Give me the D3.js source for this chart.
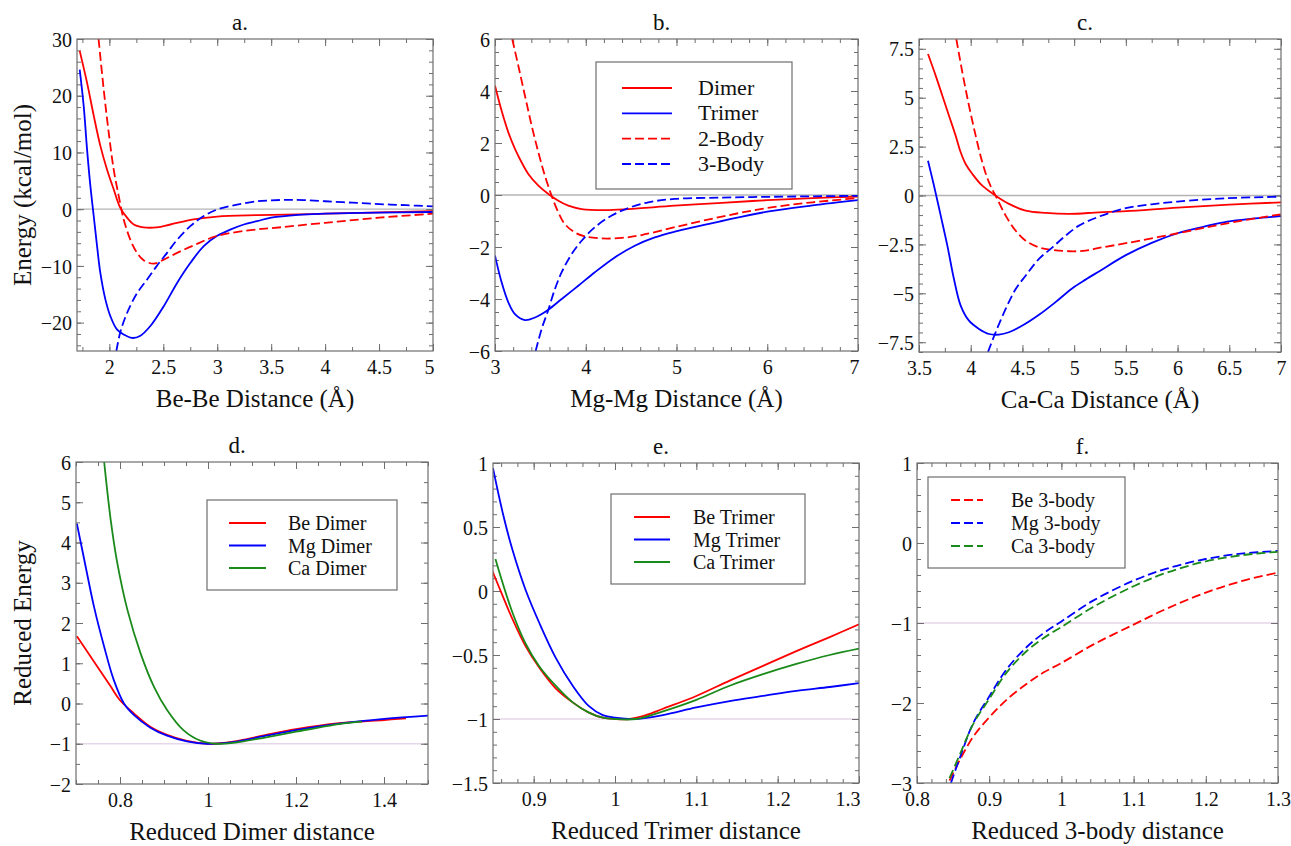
<!DOCTYPE html>
<html>
<head>
<meta charset="utf-8">
<script src="https://cdn.jsdelivr.net/npm/d3@7"></script>
<style>
body { margin: 0; background: #fff; }
svg text { font-family: "Liberation Serif", "DejaVu Serif", serif; fill: #111; }
</style>
</head>
<body>
<svg id="chart" width="1291" height="846"></svg>
<script>
// ---- a. Be (kcal/mol vs Angstrom)
var beDimer = [[1.725,27.9],[1.793,22.3],[1.855,16.5],[1.916,11.2],[1.978,7.0],[2.04,3.5],[2.1,0.26],[2.164,-1.5],[2.226,-2.7],[2.318,-3.2],[2.44,-3.2],[2.566,-2.7],[2.78,-1.8],[3.0,-1.3],[3.37,-1.05],[3.75,-0.9],[4.0,-0.8],[4.5,-0.55],[5.0,-0.35]];
var beTrimer = [[1.725,24.6],[1.762,18.2],[1.793,10.6],[1.824,4.1],[1.855,-1.2],[1.886,-6.5],[1.916,-11.2],[1.963,-15.9],[2.01,-18.9],[2.07,-21.2],[2.133,-22.1],[2.21,-22.7],[2.288,-22.3],[2.38,-20.6],[2.504,-17.1],[2.628,-13.0],[2.75,-9.5],[2.875,-6.5],[3.0,-4.7],[3.12,-3.6],[3.246,-2.7],[3.37,-2.1],[3.5,-1.5],[3.75,-1.0],[4.0,-0.8],[4.5,-0.6],[5.0,-0.5]];
var be2Body = [[1.9,30],[1.947,21.2],[1.994,13.5],[2.04,7.0],[2.087,2.3],[2.133,-1.8],[2.195,-5.4],[2.257,-7.7],[2.318,-9.0],[2.41,-9.6],[2.504,-8.9],[2.628,-7.7],[2.78,-6.4],[3.0,-4.7],[3.37,-3.55],[3.5,-3.35],[4.0,-2.4],[4.5,-1.5],[5.0,-0.8]];
var be3Body = [[2.065,-25],[2.10,-21.8],[2.164,-18.3],[2.257,-14.8],[2.35,-12.4],[2.44,-10.0],[2.535,-7.7],[2.628,-5.4],[2.75,-3.0],[2.875,-1.2],[3.0,-0.06],[3.184,0.8],[3.37,1.4],[3.5,1.55],[3.65,1.65],[3.8,1.6],[4.0,1.4],[4.25,1.15],[4.5,0.9],[4.75,0.7],[5.0,0.5]];

// ---- b. Mg
var mgDimer = [[3.0,4.2],[3.073,3.24],[3.147,2.41],[3.22,1.77],[3.294,1.25],[3.367,0.81],[3.478,0.36],[3.588,0.04],[3.698,-0.22],[3.808,-0.41],[3.955,-0.54],[4.21,-0.58],[4.47,-0.54],[4.98,-0.41],[5.5,-0.3],[6.0,-0.2],[6.5,-0.12],[7.0,-0.06]];
var mgTrimer = [[3.0,-2.33],[3.073,-3.36],[3.147,-4.13],[3.22,-4.58],[3.33,-4.81],[3.44,-4.71],[3.588,-4.41],[3.735,-4.0],[3.918,-3.49],[4.10,-2.97],[4.32,-2.4],[4.54,-1.95],[4.76,-1.63],[4.98,-1.41],[5.5,-1.0],[6.0,-0.64],[6.5,-0.4],[7.0,-0.2]];
var mg2Body = [[3.19,6],[3.257,4.97],[3.33,3.82],[3.404,2.67],[3.478,1.64],[3.55,0.74],[3.624,-0.03],[3.698,-0.67],[3.77,-1.12],[3.88,-1.44],[3.99,-1.59],[4.175,-1.67],[4.396,-1.65],[4.616,-1.54],[4.98,-1.24],[5.5,-0.83],[6.0,-0.5],[6.5,-0.28],[7.0,-0.12]];
var mg3Body = [[3.448,-6],[3.514,-5.15],[3.588,-4.41],[3.66,-3.62],[3.735,-2.97],[3.845,-2.27],[3.955,-1.76],[4.10,-1.24],[4.286,-0.79],[4.47,-0.5],[4.69,-0.28],[4.98,-0.15],[5.5,-0.1],[6.0,-0.07],[6.5,-0.05],[7.0,-0.03]];

// ---- c. Ca
var caDimer = [[3.587,7.23],[3.661,6.13],[3.726,5.1],[3.79,4.08],[3.854,3.06],[3.903,2.21],[3.951,1.61],[4.016,1.1],[4.112,0.5],[4.241,-0.01],[4.37,-0.43],[4.531,-0.77],[4.725,-0.89],[4.95,-0.94],[5.24,-0.86],[5.5,-0.8],[6.0,-0.62],[6.5,-0.47],[7.0,-0.35]];
var caTrimer = [[3.587,1.78],[3.645,0.5],[3.71,-1.03],[3.774,-2.56],[3.838,-4.27],[3.903,-5.63],[3.983,-6.4],[4.08,-6.82],[4.177,-7.08],[4.273,-7.11],[4.37,-6.99],[4.5,-6.65],[4.66,-6.1],[4.82,-5.45],[4.98,-4.75],[5.11,-4.3],[5.24,-3.88],[5.5,-3.05],[5.75,-2.42],[6.0,-1.93],[6.25,-1.6],[6.48,-1.33],[6.75,-1.17],[7.0,-1.05]];
var ca2Body = [[3.861,8],[3.919,6.3],[3.983,4.6],[4.048,3.06],[4.112,1.7],[4.177,0.67],[4.257,-0.18],[4.338,-1.03],[4.435,-1.8],[4.531,-2.31],[4.66,-2.65],[4.79,-2.78],[4.95,-2.85],[5.11,-2.82],[5.24,-2.68],[5.5,-2.44],[6.0,-1.93],[6.48,-1.42],[7.0,-0.96]];
var ca3Body = [[4.167,-8],[4.241,-6.99],[4.338,-5.8],[4.435,-4.78],[4.531,-4.1],[4.66,-3.24],[4.79,-2.65],[4.918,-2.05],[5.047,-1.54],[5.24,-1.08],[5.5,-0.65],[5.75,-0.45],[6.0,-0.31],[6.48,-0.14],[7.0,-0.06]];

// ---- d. reduced dimers
var redBeDimer = [[0.702,1.67],[0.741,1.04],[0.779,0.42],[0.8,0.08],[0.832,-0.25],[0.869,-0.58],[0.907,-0.78],[0.952,-0.93],[1.0,-1.0],[1.057,-0.95],[1.132,-0.78],[1.2,-0.64],[1.298,-0.49],[1.4,-0.41],[1.45,-0.37]];
var redMgDimer = [[0.702,4.47],[0.719,3.56],[0.741,2.4],[0.764,1.41],[0.786,0.58],[0.809,0.0],[0.832,-0.29],[0.869,-0.6],[0.907,-0.8],[0.952,-0.94],[1.0,-1.0],[1.057,-0.96],[1.132,-0.8],[1.2,-0.66],[1.298,-0.5],[1.4,-0.38],[1.5,-0.3]];
var redCaDimer = [[0.764,6],[0.779,4.55],[0.794,3.48],[0.817,2.32],[0.847,1.24],[0.877,0.42],[0.907,-0.16],[0.944,-0.66],[0.982,-0.92],[1.019,-1.0],[1.057,-0.98],[1.132,-0.84],[1.2,-0.7],[1.298,-0.51],[1.35,-0.45]];

// ---- e. reduced trimers
var redBeTrimer = [[0.849,0.16],[0.862,-0.04],[0.874,-0.22],[0.89,-0.43],[0.907,-0.6],[0.927,-0.76],[0.948,-0.87],[0.968,-0.95],[0.985,-0.99],[1.0,-1.0],[1.018,-1.0],[1.038,-0.97],[1.059,-0.92],[1.1,-0.82],[1.141,-0.7],[1.182,-0.585],[1.223,-0.47],[1.264,-0.36],[1.3,-0.26]];
var redMgTrimer = [[0.85,0.96],[0.862,0.61],[0.874,0.32],[0.89,0.01],[0.907,-0.25],[0.927,-0.52],[0.948,-0.74],[0.968,-0.9],[0.985,-0.97],[1.0,-0.99],[1.026,-1.0],[1.059,-0.97],[1.1,-0.91],[1.141,-0.86],[1.182,-0.82],[1.223,-0.78],[1.264,-0.75],[1.3,-0.72]];
var redCaTrimer = [[0.853,0.25],[0.862,0.06],[0.874,-0.17],[0.89,-0.41],[0.907,-0.59],[0.927,-0.74],[0.948,-0.87],[0.968,-0.95],[0.985,-0.99],[1.0,-1.0],[1.026,-1.0],[1.059,-0.94],[1.1,-0.85],[1.141,-0.74],[1.182,-0.65],[1.223,-0.57],[1.264,-0.5],[1.3,-0.45]];

// ---- f. reduced 3-body
var redBe3Body = [[0.845,-2.97],[0.86,-2.7],[0.878,-2.42],[0.9,-2.18],[0.924,-1.96],[0.952,-1.76],[0.975,-1.62],[1.0,-1.5],[1.044,-1.27],[1.1,-1.02],[1.146,-0.82],[1.2,-0.62],[1.252,-0.47],[1.3,-0.37]];
var redMg3Body = [[0.847,-3],[0.86,-2.67],[0.878,-2.25],[0.9,-1.92],[0.924,-1.58],[0.952,-1.3],[0.975,-1.13],[1.0,-0.98],[1.044,-0.72],[1.1,-0.47],[1.146,-0.32],[1.2,-0.2],[1.252,-0.13],[1.3,-0.1]];
var redCa3Body = [[0.845,-2.94],[0.86,-2.63],[0.878,-2.26],[0.9,-1.95],[0.924,-1.62],[0.952,-1.35],[0.975,-1.19],[1.0,-1.05],[1.044,-0.8],[1.1,-0.54],[1.146,-0.37],[1.2,-0.23],[1.252,-0.15],[1.3,-0.11]];

var RED = "#ff0000", BLUE = "#0000ff", GREEN = "#1a8a1a";
var DASH = "9,4";

var panels = [
  { title: "a.", left: 77, right: 433, top: 39, bottom: 351, xDomain: [1.7, 5], yDomain: [-25, 30],
    xMajor: [2, 2.5, 3, 3.5, 4, 4.5, 5], xMinor: 0.25, yMajor: [-20, -10, 0, 10, 20, 30], yMinor: 2, refY: 0, refColor: "#b4b4b4",
    xLabel: "Be-Be Distance (\u00c5)", yLabel: "Energy (kcal/mol)", lastEnd: true,
    series: [
      { name: "Dimer", data: beDimer, color: RED }, { name: "Trimer", data: beTrimer, color: BLUE },
      { name: "2-Body", data: be2Body, color: RED, dash: true }, { name: "3-Body", data: be3Body, color: BLUE, dash: true }] },
  { title: "b.", left: 495, right: 858, top: 39, bottom: 351, xDomain: [3, 7], yDomain: [-6, 6],
    xMajor: [3, 4, 5, 6, 7], xMinor: 0.2, yMajor: [-6, -4, -2, 0, 2, 4, 6], yMinor: 0.5, refY: 0, refColor: "#b4b4b4",
    xLabel: "Mg-Mg Distance (\u00c5)", lastEnd: true,
    legend: { x0: 596, x1: 792, y0: 62, y1: 189, rows: [88, 113.3, 138.6, 164], l0: 622, l1: 672, tx: 698, size: 22 },
    series: [
      { name: "Dimer", data: mgDimer, color: RED }, { name: "Trimer", data: mgTrimer, color: BLUE },
      { name: "2-Body", data: mg2Body, color: RED, dash: true }, { name: "3-Body", data: mg3Body, color: BLUE, dash: true }] },
  { title: "c.", left: 919, right: 1281, top: 39, bottom: 352, xDomain: [3.5, 7], yDomain: [-8, 8],
    xMajor: [3.5, 4, 4.5, 5, 5.5, 6, 6.5, 7], xMinor: 0.25, yMajor: [-7.5, -5, -2.5, 0, 2.5, 5, 7.5], yMinor: 0.5, refY: 0, refColor: "#b4b4b4",
    xLabel: "Ca-Ca Distance (\u00c5)",
    series: [
      { name: "Dimer", data: caDimer, color: RED }, { name: "Trimer", data: caTrimer, color: BLUE },
      { name: "2-Body", data: ca2Body, color: RED, dash: true }, { name: "3-Body", data: ca3Body, color: BLUE, dash: true }] },
  { title: "d.", left: 76, right: 428, top: 462, bottom: 784, xDomain: [0.7, 1.5], yDomain: [-2, 6],
    xMajor: [0.8, 1, 1.2, 1.4], xMinor: 0.05, yMajor: [-2, -1, 0, 1, 2, 3, 4, 5, 6], yMinor: 0.5, refY: -1, refColor: "#e6d6ea",
    xLabel: "Reduced Dimer distance", yLabel: "Reduced Energy",
    legend: { x0: 207, x1: 397, y0: 500, y1: 590, rows: [523, 545.5, 568], l0: 229, l1: 266, tx: 288, size: 20 },
    series: [
      { name: "Be Dimer", data: redBeDimer, color: RED }, { name: "Mg Dimer", data: redMgDimer, color: BLUE },
      { name: "Ca Dimer", data: redCaDimer, color: GREEN }] },
  { title: "e.", left: 493, right: 859, top: 463, bottom: 783, xDomain: [0.85, 1.3], yDomain: [-1.5, 1],
    xMajor: [0.9, 1, 1.1, 1.2, 1.3], xMinor: 0.02, yMajor: [-1.5, -1, -0.5, 0, 0.5, 1], yMinor: 0.1, refY: -1, refColor: "#e6d6ea",
    xLabel: "Reduced Trimer distance", lastEnd: true,
    legend: { x0: 611, x1: 805, y0: 494, y1: 584, rows: [517, 539.5, 562], l0: 634, l1: 670, tx: 693, size: 20 },
    series: [
      { name: "Be Trimer", data: redBeTrimer, color: RED }, { name: "Mg Trimer", data: redMgTrimer, color: BLUE },
      { name: "Ca Trimer", data: redCaTrimer, color: GREEN }] },
  { title: "f.", left: 917, right: 1278, top: 463, bottom: 783, xDomain: [0.8, 1.3], yDomain: [-3, 1],
    xMajor: [0.8, 0.9, 1, 1.1, 1.2, 1.3], xMinor: 0.02, yMajor: [-3, -2, -1, 0, 1], yMinor: 0.2, refY: -1, refColor: "#e6d6ea",
    xLabel: "Reduced 3-body distance",
    legend: { x0: 928, x1: 1125, y0: 477, y1: 568, rows: [500, 523, 546], l0: 951, l1: 983, tx: 1011, size: 20 },
    series: [
      { name: "Be 3-body", data: redBe3Body, color: RED, dash: true }, { name: "Mg 3-body", data: redMg3Body, color: BLUE, dash: true },
      { name: "Ca 3-body", data: redCa3Body, color: GREEN, dash: true }] }
];

var svg = d3.select("#chart");
var fmt = d3.format("~g");
var frameColor = "#6e6e6e";
var serif = "'Liberation Serif', 'DejaVu Serif', serif";

function steps(domain, step) {
    var out = [];
    var start = Math.ceil(domain[0] / step - 1e-6) * step;
    for (var v = start; v <= domain[1] + 1e-6; v += step)
        out.push(+v.toFixed(4));
    return out;
}

function styleAxis(sel) {
    sel.select(".domain").remove();
    sel.attr("font-family", serif);
    sel.selectAll(".tick line").attr("stroke", frameColor).attr("stroke-width", 1);
    sel.selectAll(".tick text").attr("font-size", 20).attr("font-family", serif).attr("fill", "#111");
}

function drawPanel(p, i) {
    var x = d3.scaleLinear().domain(p.xDomain).range([p.left, p.right]);
    var y = d3.scaleLinear().domain(p.yDomain).range([p.bottom, p.top]);
    var g = svg.append("g");

    var clipId = "clip" + i;
    g.append("clipPath").attr("id", clipId)
        .append("rect")
        .attr("x", p.left).attr("y", p.top)
        .attr("width", p.right - p.left).attr("height", p.bottom - p.top);

    // reference line
    g.append("line")
        .attr("x1", p.left).attr("x2", p.right)
        .attr("y1", y(p.refY)).attr("y2", y(p.refY))
        .attr("stroke", p.refColor).attr("stroke-width", 1.3);

    // minor ticks, all four sides
    var xm = steps(p.xDomain, p.xMinor), ym = steps(p.yDomain, p.yMinor);
    g.append("g").attr("transform", "translate(0," + p.bottom + ")")
        .call(d3.axisBottom(x).tickValues(xm).tickSize(-4).tickFormat("")).call(styleAxis);
    g.append("g").attr("transform", "translate(0," + p.top + ")")
        .call(d3.axisTop(x).tickValues(xm).tickSize(-4).tickFormat("")).call(styleAxis);
    g.append("g").attr("transform", "translate(" + p.left + ",0)")
        .call(d3.axisLeft(y).tickValues(ym).tickSize(-4).tickFormat("")).call(styleAxis);
    g.append("g").attr("transform", "translate(" + p.right + ",0)")
        .call(d3.axisRight(y).tickValues(ym).tickSize(-4).tickFormat("")).call(styleAxis);

    // major ticks with labels
    var xb = g.append("g").attr("transform", "translate(0," + p.bottom + ")")
        .call(d3.axisBottom(x).tickValues(p.xMajor).tickSize(-7).tickPadding(9).tickFormat(fmt)).call(styleAxis);
    if (p.lastEnd) {
        xb.selectAll(".tick").filter(function (d) { return d === p.xDomain[1]; })
            .select("text").attr("text-anchor", "end").attr("x", 1);
    }
    g.append("g").attr("transform", "translate(0," + p.top + ")")
        .call(d3.axisTop(x).tickValues(p.xMajor).tickSize(-7).tickFormat("")).call(styleAxis);
    g.append("g").attr("transform", "translate(" + p.left + ",0)")
        .call(d3.axisLeft(y).tickValues(p.yMajor).tickSize(-7).tickPadding(5).tickFormat(fmt)).call(styleAxis)
        .selectAll(".tick text").attr("dy", "0.36em");
    g.append("g").attr("transform", "translate(" + p.right + ",0)")
        .call(d3.axisRight(y).tickValues(p.yMajor).tickSize(-7).tickFormat("")).call(styleAxis);

    // curves
    var line = d3.line()
        .x(function (d) { return x(d[0]); })
        .y(function (d) { return y(d[1]); })
        .curve(d3.curveCatmullRom.alpha(0.5));
    g.append("g").attr("clip-path", "url(#" + clipId + ")")
        .selectAll("path")
        .data(p.series).enter()
        .append("path")
        .attr("d", function (s) { return line(s.data); })
        .attr("fill", "none")
        .attr("stroke", function (s) { return s.color; })
        .attr("stroke-width", 1.8)
        .attr("stroke-dasharray", function (s) { return s.dash ? DASH : null; });

    // frame
    g.append("rect")
        .attr("x", p.left).attr("y", p.top)
        .attr("width", p.right - p.left).attr("height", p.bottom - p.top)
        .attr("fill", "none").attr("stroke", frameColor).attr("stroke-width", 1.2);

    // title and axis labels
    g.append("text")
        .attr("x", (p.left + p.right) / 2 - 15).attr("y", p.top - 9)
        .attr("text-anchor", "middle").attr("font-size", 23)
        .text(p.title);
    g.append("text")
        .attr("x", (p.left + p.right) / 2).attr("y", p.bottom + 56)
        .attr("text-anchor", "middle").attr("font-size", 25)
        .text(p.xLabel);
    if (p.yLabel) {
        g.append("text")
            .attr("transform", "translate(31," + (p.top + p.bottom) / 2 + ") rotate(-90)")
            .attr("text-anchor", "middle").attr("font-size", 25)
            .text(p.yLabel);
    }

    // legend
    if (p.legend) {
        var L = p.legend;
        g.append("rect")
            .attr("x", L.x0).attr("y", L.y0)
            .attr("width", L.x1 - L.x0).attr("height", L.y1 - L.y0)
            .attr("fill", "#fff").attr("stroke", frameColor).attr("stroke-width", 1.2);
        var items = g.selectAll(".leg" + i)
            .data(p.series).enter()
            .append("g");
        items.append("line")
            .attr("x1", L.l0).attr("x2", L.l1)
            .attr("y1", function (s, k) { return L.rows[k]; })
            .attr("y2", function (s, k) { return L.rows[k]; })
            .attr("stroke", function (s) { return s.color; })
            .attr("stroke-width", 1.8)
            .attr("stroke-dasharray", function (s) { return s.dash ? DASH : null; });
        items.append("text")
            .attr("x", L.tx)
            .attr("y", function (s, k) { return L.rows[k] + 7; })
            .attr("font-size", L.size)
            .text(function (s) { return s.name; });
    }
}

panels.forEach(drawPanel);
</script>
</body>
</html>
